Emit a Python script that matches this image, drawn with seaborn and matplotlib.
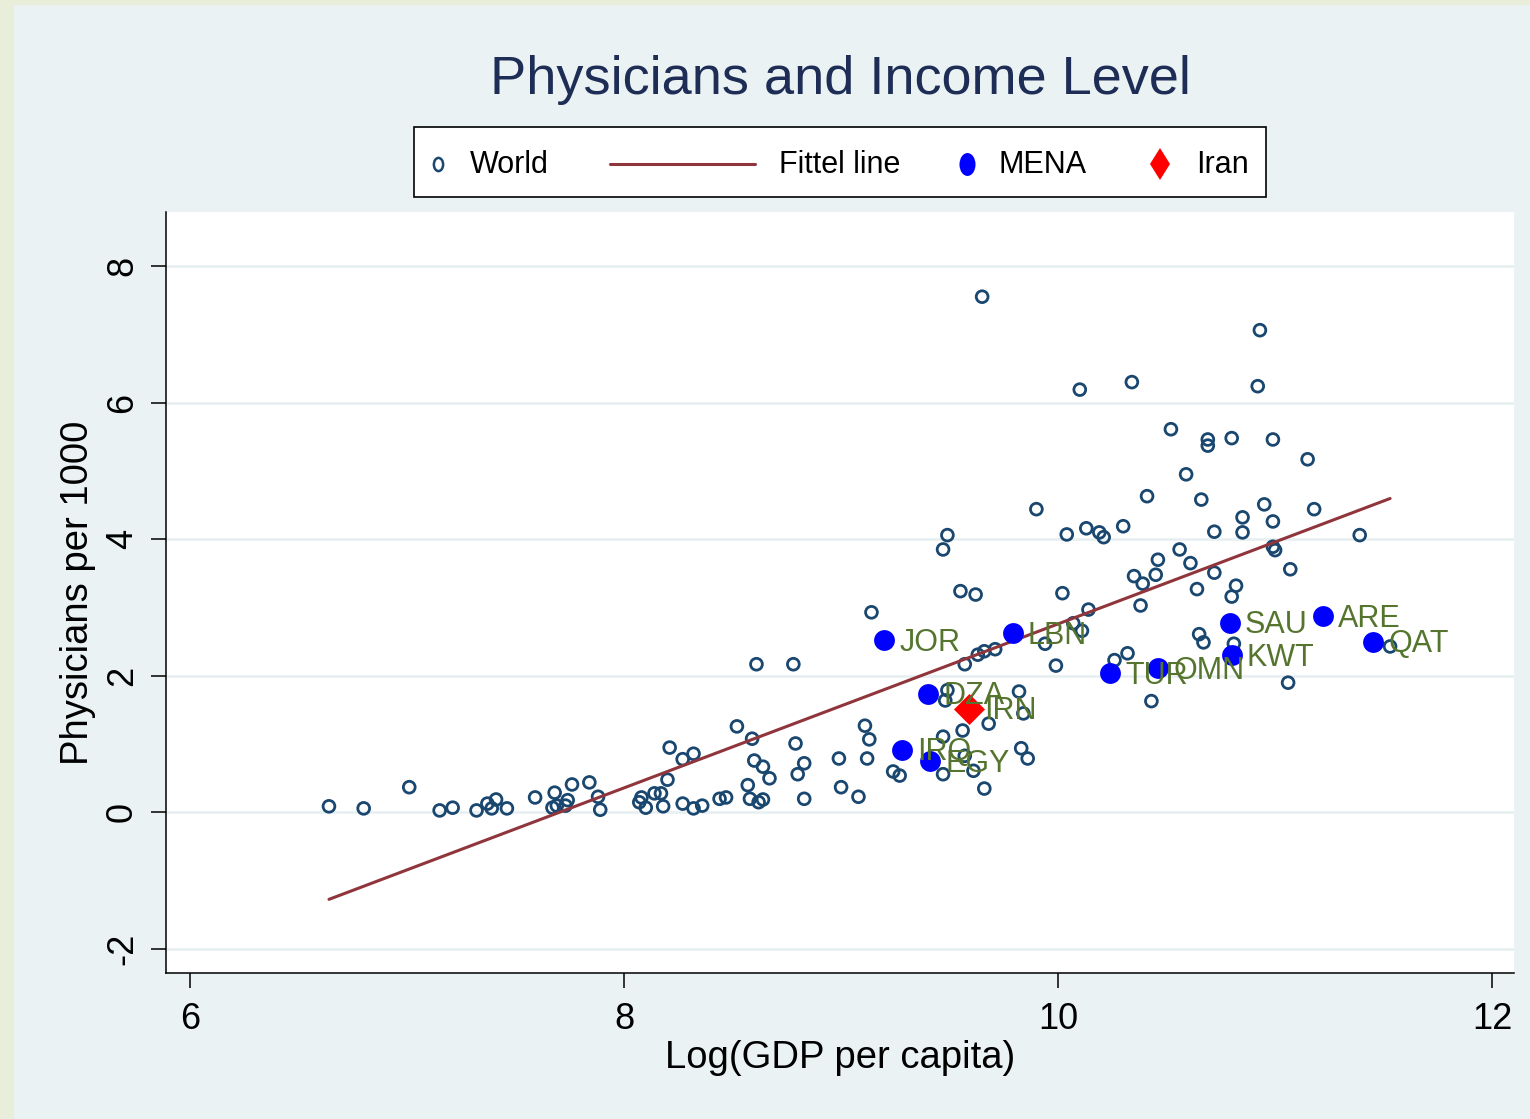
import numpy as np
import pandas as pd
import matplotlib
matplotlib.use("Agg")
import matplotlib.pyplot as plt
import seaborn as sns
from matplotlib.lines import Line2D
from matplotlib.path import Path
from matplotlib.transforms import Affine2D
from matplotlib.patches import Rectangle
from matplotlib.offsetbox import AnchoredOffsetbox, HPacker, VPacker, DrawingArea, TextArea

# --- data ---
world_x = [6.64, 6.80, 7.01, 7.15, 7.21, 7.32, 7.37, 7.39, 7.41, 7.46,
           7.59, 7.68, 7.67, 7.69, 7.74, 7.73, 7.76, 7.84, 7.88, 7.89,
           8.07, 8.08, 8.10, 8.14, 8.17, 8.18, 8.20, 8.21, 8.27, 8.32,
           8.27, 8.32, 8.36,
           8.44, 8.47, 8.52, 8.59, 8.57, 8.58, 8.62, 8.64, 8.60, 8.64,
           8.67, 8.61, 8.78, 8.79, 8.83, 8.80, 8.83, 8.99, 9.00, 9.08,
           9.11, 9.13, 9.12, 9.14, 9.24, 9.27, 9.47, 9.47, 9.49, 9.48,
           9.56, 9.61, 9.57, 9.66, 9.68, 9.82, 9.84, 9.83, 9.86,
           9.57, 9.63, 9.66, 9.71, 9.94, 9.99, 10.02, 10.07, 10.11, 10.14,
           9.47, 9.49, 9.55, 9.62, 9.90, 10.04, 10.13, 10.19, 10.21, 10.30,
           9.65, 10.10, 10.34, 10.52, 10.59, 10.41, 10.92, 10.93, 10.69, 10.69,
           10.80, 10.99, 11.15, 10.66, 10.95, 11.18, 10.85, 10.99, 11.39, 10.72,
           10.85, 10.56, 10.46, 10.61, 10.99, 11.00, 10.35, 10.45, 10.39, 10.72,
           11.07, 10.64, 10.82, 10.80, 10.38, 10.65, 10.67, 10.81, 11.53, 10.32,
           10.26, 11.06, 10.43]
world_y = [0.09, 0.06, 0.37, 0.03, 0.07, 0.03, 0.13, 0.06, 0.19, 0.06,
           0.22, 0.29, 0.07, 0.10, 0.18, 0.10, 0.41, 0.44, 0.23, 0.04,
           0.15, 0.22, 0.07, 0.28, 0.28, 0.09, 0.48, 0.95, 0.78, 0.86,
           0.13, 0.06, 0.10,
           0.20, 0.22, 1.26, 1.08, 0.40, 0.20, 0.15, 0.19, 0.76, 0.67,
           0.50, 2.17, 2.17, 1.01, 0.72, 0.56, 0.20, 0.79, 0.37, 0.23,
           1.27, 1.07, 0.79, 2.93, 0.60, 0.54, 0.56, 1.11, 1.79, 1.64,
           1.20, 0.61, 0.83, 0.35, 1.30, 1.77, 1.45, 0.94, 0.79,
           2.17, 2.31, 2.36, 2.39, 2.47, 2.15, 3.21, 2.77, 2.66, 2.97,
           3.85, 4.06, 3.24, 3.19, 4.44, 4.07, 4.16, 4.10, 4.03, 4.19,
           7.55, 6.19, 6.30, 5.61, 4.95, 4.63, 6.24, 7.06, 5.46, 5.37,
           5.48, 5.46, 5.17, 4.58, 4.51, 4.44, 4.32, 4.26, 4.06, 4.11,
           4.10, 3.85, 3.70, 3.65, 3.89, 3.84, 3.46, 3.48, 3.35, 3.51,
           3.56, 3.27, 3.32, 3.16, 3.03, 2.61, 2.49, 2.47, 2.43, 2.33,
           2.23, 1.90, 1.63]

mena_codes = ["JOR", "LBN", "DZA", "IRQ", "EGY", "TUR", "OMN", "SAU", "KWT", "ARE", "QAT"]
mena_x = [9.20, 9.79, 9.40, 9.28, 9.41, 10.24, 10.46, 10.79, 10.80, 11.22, 11.45]
mena_y = [2.52, 2.62, 1.74, 0.92, 0.75, 2.04, 2.11, 2.78, 2.30, 2.87, 2.50]

iran_codes = ["IRN"]
iran_x = [9.59]
iran_y = [1.52]

# fitted line
fit_slope = 1.20
fit_intercept = -9.24

x_ticks = [6, 8, 10, 12]
y_ticks = [-2, 0, 2, 4, 6, 8]

NAVY = "#1a476f"
MAROON = "#90353b"
GREEN = "#55752f"
BG = "#eaf2f3"

sns.set_theme(style="white")
plt.rcParams["font.family"] = ["Liberation Sans", "DejaVu Sans"]
plt.rcParams["axes.unicode_minus"] = False

W, H = 1530, 1119
fig = plt.figure(figsize=(W / 100, H / 100), dpi=100, facecolor="#e9eedb")
fig.patches.append(Rectangle((14 / W, 0), 1, 1 - 5 / H, transform=fig.transFigure,
                             facecolor=BG, edgecolor="none", zorder=-1))
ax = fig.add_axes([166 / W, 1 - 973 / H, 1348 / W, 761 / H])
ax.set_facecolor("white")

world = pd.DataFrame({"x": world_x, "y": world_y})
mena = pd.DataFrame({"code": mena_codes, "x": mena_x, "y": mena_y})
iran = pd.DataFrame({"code": iran_codes, "x": iran_x, "y": iran_y})
fit = pd.DataFrame({"x": [world["x"].min(), world["x"].max()]})
fit["y"] = fit_slope * fit["x"] + fit_intercept

sns.scatterplot(data=world, x="x", y="y", ax=ax, s=72, facecolors="none",
                edgecolor=NAVY, linewidth=2.0, zorder=3, legend=False)
sns.lineplot(data=fit, x="x", y="y", ax=ax, color=MAROON, linewidth=2.2, zorder=4)
sns.scatterplot(data=mena, x="x", y="y", ax=ax, s=225, color="#0000ff",
                linewidth=0, zorder=5, legend=False)
sns.scatterplot(data=iran, x="x", y="y", ax=ax, s=250, marker="D", color="#ff0000",
                linewidth=0, zorder=5, legend=False)

for df in (mena, iran):
    for _, r in df.iterrows():
        ax.annotate(r["code"], (r["x"], r["y"]), xytext=(11, -2), textcoords="offset points",
                    ha="left", va="center", fontsize=22, color=GREEN, zorder=6)

# axes styling
ax.set_xlim(5.889, 12.101)
ax.set_ylim(-2.35, 8.79)
ax.set_xticks(x_ticks)
ax.set_yticks(y_ticks)
ax.yaxis.grid(True, color="#e6eff1", linewidth=1.8)
ax.xaxis.grid(False)
ax.set_axisbelow(True)
for side in ("top", "right"):
    ax.spines[side].set_visible(False)
for side in ("left", "bottom"):
    ax.spines[side].set_color("black")
    ax.spines[side].set_linewidth(1.1)
ax.tick_params(axis="both", direction="out", length=10.8, width=1.1, color="black",
               labelsize=26, labelcolor="black", bottom=True, left=True)
ax.tick_params(axis="x", pad=10)
ax.tick_params(axis="y", pad=8, labelrotation=90)
for lab in ax.get_yticklabels():
    lab.set_va("center")

ax.set_xlabel("Log(GDP per capita)", fontsize=27.5, color="black", va="center")
ax.xaxis.set_label_coords(0.5, (973 - 1058) / 761)
ax.set_ylabel("Physicians per 1000", fontsize=27.5, color="black", va="center")
ax.yaxis.set_label_coords((78 - 166) / 1348, 0.5)

ax.text(0.5, (973 - 94) / 761, "Physicians and Income Level", transform=ax.transAxes,
        ha="center", va="baseline", fontsize=39, color="#1e2d55")

# legend built as a row of boxes (Stata-like spacing)
def pt(v):
    return v * 0.72

LH = pt(70)
ellipse = Path.unit_circle().transformed(Affine2D().scale(0.7, 1.0))

def marker_area(width, **kw):
    da = DrawingArea(pt(width), LH, 0, 0)
    da.add_artist(Line2D([pt(width) / 2], [LH / 2 - 1.5], linestyle="none", **kw))
    return da

def line_area(width):
    da = DrawingArea(pt(width), LH, 0, 0)
    da.add_artist(Line2D([0, pt(width)], [LH / 2 - 1.5, LH / 2 - 1.5], color=MAROON,
                         linewidth=2.2))
    return da

def gap(width):
    return DrawingArea(pt(width), LH, 0, 0)

def label(t):
    # small spacer on top nudges the text down to sit level with the symbols
    return VPacker(children=[DrawingArea(0, pt(6), 0, 0),
                             TextArea(t, textprops=dict(fontsize=22, color="black"))],
                   align="left", pad=0, sep=0)

row = HPacker(children=[
    marker_area(48, marker=ellipse, markersize=9.5, markerfacecolor="none",
                markeredgecolor=NAVY, markeredgewidth=1.8),
    gap(8), label("World"),
    gap(61), line_area(145),
    gap(24), label("Fittel line"),
    gap(47), marker_area(40, marker=ellipse, markersize=16.5, markerfacecolor="#0000ff",
                         markeredgewidth=0),
    gap(11), label("MENA"),
    gap(54), marker_area(40, marker="d", markersize=16.3, markerfacecolor="#ff0000",
                         markeredgewidth=0),
    gap(16), label("Iran"),
    gap(17),
], align="center", pad=0, sep=0)

leg = AnchoredOffsetbox(loc="center", child=row, pad=0, borderpad=0, frameon=True,
                        bbox_to_anchor=(0.5, (973 - 162) / 761),
                        bbox_transform=ax.transAxes)
leg.patch.set_boxstyle("square", pad=0)
leg.patch.set_facecolor("white")
leg.patch.set_edgecolor("black")
leg.patch.set_linewidth(1.2)
ax.add_artist(leg)

fig.savefig("out.png", dpi=100, facecolor=fig.get_facecolor())
